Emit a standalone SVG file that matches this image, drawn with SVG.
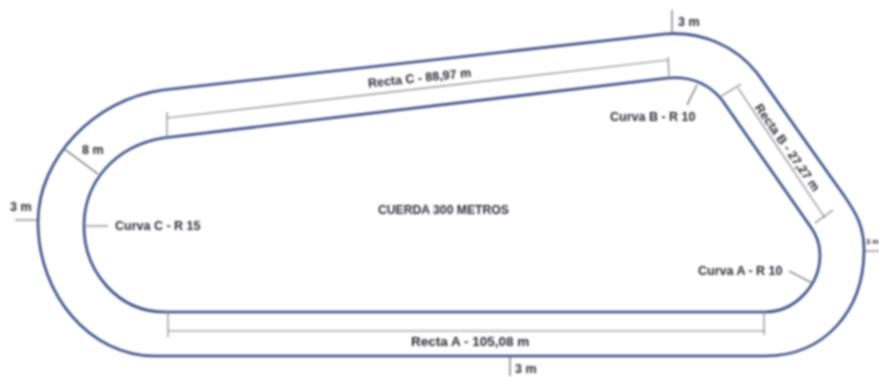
<svg xmlns="http://www.w3.org/2000/svg" width="879" height="377" viewBox="0 0 879 377">
<style>
text{font-family:"Liberation Sans",Arial,sans-serif;font-size:12.5px;font-weight:bold;fill:#2c2c34}
.track{fill:none;stroke:#3a4e86;stroke-width:2.6;stroke-linecap:round;stroke-linejoin:round}
.dim{fill:none;stroke:#858585;stroke-width:1.2}
.lead{fill:none;stroke:#666;stroke-width:1.2}
</style>
<defs><filter id="soft" x="-5%" y="-5%" width="110%" height="110%"><feGaussianBlur stdDeviation="0.85"/></filter></defs>
<rect width="879" height="377" fill="#fff"/>
<g filter="url(#soft)">
<g id="track-outer"><path class="track" d="M155 356H765C825 356 864 310 864 250C864 225 855 212 845 197L757 73C735 45 700 31 665 34L163 90C95 99 38 158 38 222C38 295 90 356 155 356Z"/></g>
<g id="track-inner"><path class="track" d="M165 312H765C795 312 820 285 820 255C820 243 816 234 810 226L722 100C710 85 692 76 668 78L163 138C115 146 84 182 84 226C84 272 118 312 165 312Z"/></g>
<g id="connectors">
<path class="dim" d="M167 118L668 60M167 112V137M668 57L669 76"/>
<path class="dim" d="M168 331H765M168 312V337M764 312V335"/>
<path class="dim" d="M738 88L825 218M720 97L741 84M815 223L833 210"/>
<path class="lead" d="M672 10V33M510 356V376M15 220H37M865 251H879M63 148L98 174M108 226H86M687 105L697 85M789 271L812 283"/>
</g>
<g id="label-recta-c"><text transform="translate(368.5 87.5) rotate(-6)">Recta C - 88,97 m</text></g>
<g id="label-recta-a"><text x="411" y="345.5" style="font-size:13.5px">Recta A - 105,08 m</text></g>
<g id="label-recta-b"><text transform="translate(754.3 107.6) rotate(55)">Recta B - 27,27 m</text></g>
<g id="label-cuerda"><text x="378" y="213.5" style="font-size:12.2px">CUERDA 300 METROS</text></g>
<g id="label-curva-a"><text x="698" y="274.5">Curva A - R 10</text></g>
<g id="label-curva-b"><text x="610" y="121">Curva B - R 10</text></g>
<g id="label-curva-c"><text x="115" y="229.5">Curva C - R 15</text></g>
<g id="label-8m"><text x="82" y="154">8 m</text></g>
<g id="label-3m-top"><text x="678" y="26">3 m</text></g>
<g id="label-3m-left"><text x="10" y="211">3 m</text></g>
<g id="label-3m-right"><text x="866" y="244" style="font-size:7.5px">3 m</text></g>
<g id="label-3m-bottom"><text x="515" y="372.5">3 m</text></g>
</g>
</svg>
